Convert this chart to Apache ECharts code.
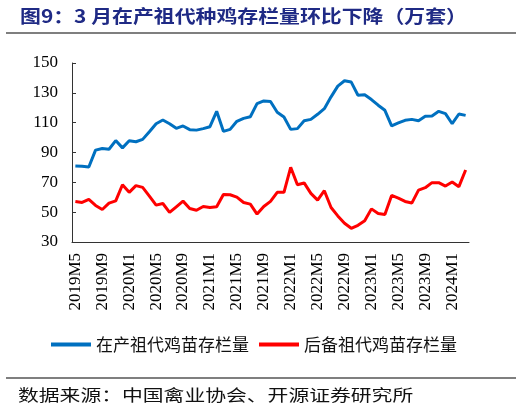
<!DOCTYPE html>
<html>
<head>
<meta charset="utf-8">
<script src="https://cdn.jsdelivr.net/npm/echarts@6/dist/echarts.min.js"></script>
<style>
  html, body { margin: 0; padding: 0; background: #fff; }
  #chart { width: 522px; height: 410px; }
</style>
</head>
<body>
<div id="chart"></div>
<script>
// 月份类目 2019M5 - 2024M3
var months = [
  '2019M5','2019M6','2019M7','2019M8','2019M9','2019M10','2019M11','2019M12',
  '2020M1','2020M2','2020M3','2020M4','2020M5','2020M6','2020M7','2020M8','2020M9','2020M10','2020M11','2020M12',
  '2021M1','2021M2','2021M3','2021M4','2021M5','2021M6','2021M7','2021M8','2021M9','2021M10','2021M11','2021M12',
  '2022M1','2022M2','2022M3','2022M4','2022M5','2022M6','2022M7','2022M8','2022M9','2022M10','2022M11','2022M12',
  '2023M1','2023M2','2023M3','2023M4','2023M5','2023M6','2023M7','2023M8','2023M9','2023M10','2023M11','2023M12',
  '2024M1','2024M2','2024M3'
];

// 在产祖代鸡苗存栏量（万套）
var parentStock = [
  81.0, 80.8, 80.3, 91.6, 92.7, 92.2, 98.0, 93.1, 97.9, 97.2,
  98.8, 103.9, 109.3, 111.8, 109.3, 106.2, 107.8, 105.3, 105.0, 106.0,
  107.3, 117.6, 104.2, 105.5, 110.9, 112.9, 114.0, 122.8, 124.6, 124.2,
  117.0, 113.8, 105.5, 106.0, 111.3, 112.2, 115.6, 119.4, 127.3, 134.5,
  138.1, 137.2, 128.4, 128.7, 125.5, 121.7, 118.3, 107.8, 109.8, 111.6,
  112.2, 111.3, 114.3, 114.5, 117.6, 116.1, 109.3, 115.8, 114.9
];

// 后备祖代鸡苗存栏量（万套）
var reserveStock = [
  57.2, 56.5, 58.5, 54.5, 51.8, 56.1, 57.6, 68.4, 63.3, 67.8,
  66.6, 60.8, 54.7, 55.8, 49.8, 53.6, 57.4, 52.5, 51.3, 53.8,
  53.1, 53.6, 61.9, 61.7, 60.1, 56.5, 55.4, 48.7, 53.8, 57.2,
  63.3, 63.3, 80.1, 68.4, 69.6, 62.6, 58.1, 64.4, 53.1, 47.5,
  42.6, 39.2, 41.2, 44.2, 52.2, 49.1, 48.4, 61.2, 59.4, 57.2,
  56.1, 64.8, 66.4, 69.8, 69.8, 67.5, 70.2, 67.1, 78.3
];

var seriesNames = ['在产祖代鸡苗存栏量', '后备祖代鸡苗存栏量'];
var titleText = '图9：3 月在产祖代种鸡存栏量环比下降（万套）';
var sourceText = '数据来源：中国禽业协会、开源证券研究所';

var cjk = '"Noto Sans CJK SC", sans-serif';
var serif = '"Liberation Serif", "DejaVu Serif", serif';

var chart = echarts.init(document.getElementById('chart'));
chart.setOption({
  animation: false,
  backgroundColor: '#fff',
  graphic: [
    {
      // 原图标题字形偏宽，横向拉伸一点
      type: 'text', x: 20, y: 16, scaleX: 1.16,
      style: {
        text: titleText, fontSize: 18, fontWeight: 'bold', fontFamily: cjk,
        fill: '#1f2a85', verticalAlign: 'middle'
      }
    },
    {
      type: 'line', shape: { x1: 6, y1: 33, x2: 516, y2: 33 },
      style: { stroke: '#7f7f7f', lineWidth: 2 }
    },
    {
      type: 'line', shape: { x1: 6, y1: 378, x2: 516, y2: 378 },
      style: { stroke: '#000', lineWidth: 1.2 }
    },
    {
      type: 'text', x: 18, y: 395, scaleX: 1.3,
      style: {
        text: sourceText, fontSize: 16, fontFamily: cjk,
        fill: '#111', verticalAlign: 'middle'
      }
    }
  ],
  legend: {
    data: seriesNames,
    left: 46,
    top: 331,
    icon: 'rect',
    itemWidth: 40,
    itemHeight: 4,
    itemGap: 10,
    textStyle: { fontSize: 17, fontFamily: cjk, color: '#111' }
  },
  grid: {
    left: 72,
    right: 53,
    top: 63,
    bottom: 168,
    containLabel: false
  },
  xAxis: {
    type: 'category',
    boundaryGap: true,
    data: months,
    axisLine: { lineStyle: { color: '#333', width: 1 } },
    axisTick: { inside: true, length: 4, interval: 3, lineStyle: { color: '#333' } },
    axisLabel: {
      interval: 3,
      rotate: 90,
      margin: 11,
      fontSize: 17,
      fontFamily: serif,
      color: '#000'
    },
    splitLine: { show: false }
  },
  yAxis: {
    type: 'value',
    min: 30,
    max: 150,
    interval: 20,
    axisLine: { show: true, lineStyle: { color: '#333', width: 1 } },
    axisTick: { show: true, inside: true, length: 4, lineStyle: { color: '#333' } },
    axisLabel: { margin: 14, fontSize: 17, fontFamily: serif, color: '#000' },
    splitLine: { show: false }
  },
  series: [
    {
      name: seriesNames[0],
      type: 'line',
      data: parentStock,
      symbol: 'none',
      color: '#0070c0',
      lineStyle: { width: 3, color: '#0070c0' }
    },
    {
      name: seriesNames[1],
      type: 'line',
      data: reserveStock,
      symbol: 'none',
      color: '#ff0000',
      lineStyle: { width: 3, color: '#ff0000' }
    }
  ]
});
</script>
</body>
</html>
